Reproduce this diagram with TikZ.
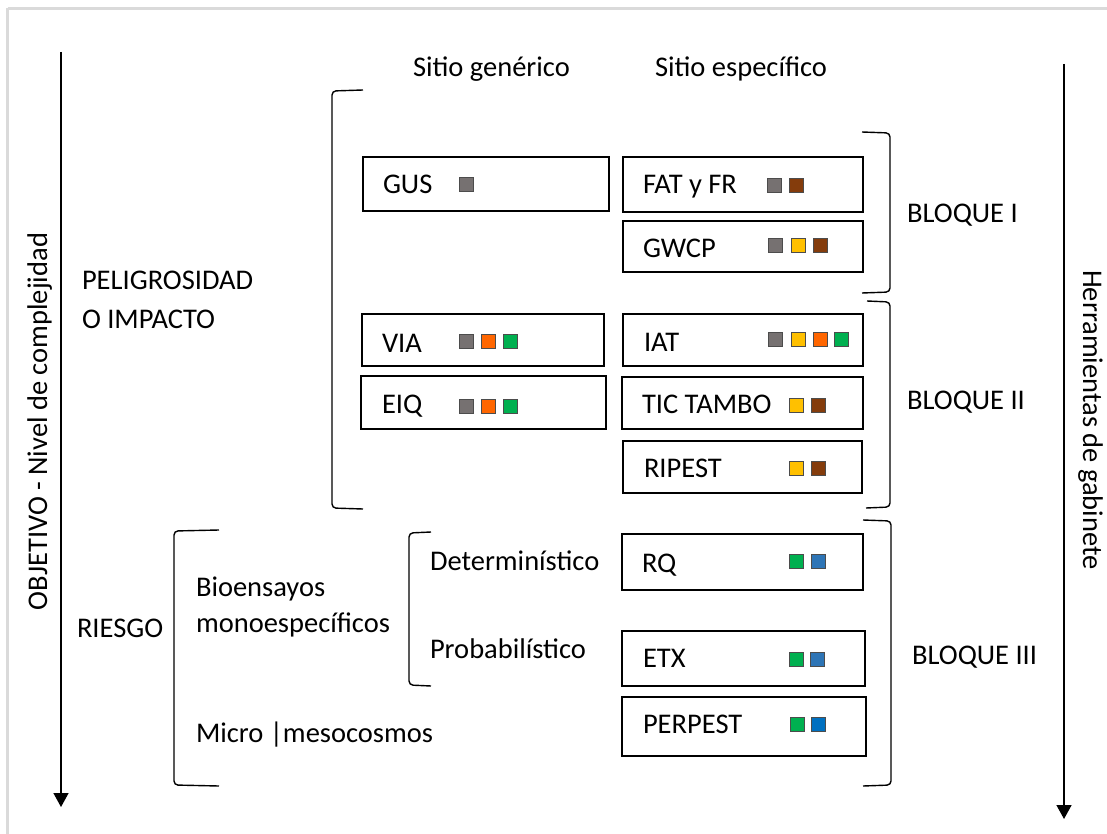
\documentclass[tikz,border=0pt]{standalone}
\usepackage{fontspec}
\setmainfont{Carlito}
\usetikzlibrary{arrows.meta}
\definecolor{cgray}{HTML}{767171}
\definecolor{cyellow}{HTML}{FFC000}
\definecolor{corange}{HTML}{FF6600}
\definecolor{cgreen}{HTML}{00B050}
\definecolor{cbrown}{HTML}{843C0C}
\definecolor{cblue}{HTML}{2E75B6}
\definecolor{cblueb}{HTML}{0070C0}
\definecolor{frame}{HTML}{DADADA}
\newcommand\toolbox[5]{\node[boxst,anchor=north west,minimum width=#4-#2,minimum height=#5-#3] (#1) at (#2,#3) {};}
\newcommand\colsq[4]{\node[sqr,fill=#4] (#1) at (#2+7.5,#3+7.5) {};}
\begin{document}
\begin{tikzpicture}[x=1pt,y=-1pt,
  every node/.style={font=\fontsize{28.5}{34}\selectfont, inner sep=0pt, outer sep=0pt},
  boxst/.style={draw=black, line width=1.9pt, fill=none},
  sqr/.style={draw=black!70, line width=0.9pt, minimum width=14pt, minimum height=14pt},
  lbl/.style={anchor=base west},
  brk/.style={draw=black, line width=1.4pt, rounded corners=4pt},
  axis/.style={draw=black, line width=1.5pt, -{Triangle[width=15pt,length=14pt]}}]
\useasboundingbox (0,0) rectangle (1107,834);
\draw[frame, line width=3pt] (7.5,8.5) -- (1130,8.5);
\draw[frame, line width=3pt] (7.5,8.5) -- (7.5,860);

% axes
\coordinate (la) at (61,52);
\coordinate (lb) at (61,807);
\coordinate (ra) at (1064,64);
\coordinate (rb) at (1064,819);
\draw[axis] (la) -- (lb);
\draw[axis] (ra) -- (rb);
\node[rotate=90, anchor=base] (obj) at (47,421.5) {OBJETIVO - Nivel de complejidad};
\node[rotate=-90, anchor=base] (herr) at (1083,420) {Herramientas de gabinete};

% headers
\node[lbl] (sgen) at (413,77) {Sitio genérico};
\node[lbl] (sesp) at (655,77) {Sitio específico};

% left labels
\node[lbl] (pel) at (82,289) {PELIGROSIDAD};
\node[lbl] (oimp) at (82,328) {O IMPACTO};
\node[lbl] (ries) at (77,637) {RIESGO};
\node[lbl] (bio) at (196,596) {Bioensayos};
\node[lbl] (mono) at (196,632) {monoespecíficos};
\node[lbl] (micro) at (196,742) {Micro |mesocosmos};
\node[lbl] (det) at (430,570) {Determinístico};
\node[lbl] (prob) at (430,658) {Probabilístico};

% bloques
\node[lbl] (b1) at (907,223) {BLOQUE I};
\node[lbl] (b2) at (907,409) {BLOQUE II};
\node[lbl] (b3) at (912,664) {BLOQUE III};

% brackets
\draw[brk] (363,90) -- (332,91) -- (332,508) -- (363,509);
\draw[brk] (862,132) -- (890,133) -- (890,292) -- (862,293);
\draw[brk] (867,301) -- (890,302) -- (890,507) -- (866,508);
\draw[brk] (863,520) -- (891,521) -- (891,785) -- (863,786);
\draw[brk] (219,530) -- (174,531) -- (174,785) -- (219,786);
\draw[brk] (431,532) -- (409,533) -- (409,685) -- (431,686);

% boxes
\toolbox{gus}{363}{157}{609}{211}
\toolbox{via}{362}{314}{604}{366}
\toolbox{eiq}{361}{376}{606}{429}
\toolbox{fat}{623}{157}{863}{212}
\toolbox{gwcp}{623}{221}{863}{272}
\toolbox{iat}{623}{314}{863}{366}
\toolbox{tic}{622}{377}{863}{429}
\toolbox{ripest}{623}{441}{862}{493}
\toolbox{rq}{622}{534}{863}{590}
\toolbox{etx}{622}{631}{865}{686}
\toolbox{perpest}{622}{697}{866}{756}

% box labels
\node[lbl] (tgus) at (383,194) {GUS};
\node[lbl] (tvia) at (382,352) {VIA};
\node[lbl] (teiq) at (382,413) {EIQ};
\node[lbl] (tfat) at (643,194) {FAT y FR};
\node[lbl] (tgwcp) at (643,258) {GWCP};
\node[lbl] (tiat) at (644,351) {IAT};
\node[lbl] (ttic) at (642,413) {TIC TAMBO};
\node[lbl] (tripest) at (644,477) {RIPEST};
\node[lbl] (trq) at (642,572) {RQ};
\node[lbl] (tetx) at (643,667) {ETX};
\node[lbl] (tperpest) at (643,733) {PERPEST};

% squares
\colsq{gus1}{459}{177}{cgray}
\colsq{via1}{459}{334}{cgray}
\colsq{via2}{481}{334}{corange}
\colsq{via3}{503}{334}{cgreen}
\colsq{eiq1}{459}{399}{cgray}
\colsq{eiq2}{481}{399}{corange}
\colsq{eiq3}{503}{399}{cgreen}
\colsq{fat1}{767}{178}{cgray}
\colsq{fat2}{789}{178}{cbrown}
\colsq{gwcp1}{768}{238}{cgray}
\colsq{gwcp2}{791}{238}{cyellow}
\colsq{gwcp3}{813}{238}{cbrown}
\colsq{iat1}{768}{332}{cgray}
\colsq{iat2}{791}{332}{cyellow}
\colsq{iat3}{813}{332}{corange}
\colsq{iat4}{834}{332}{cgreen}
\colsq{tic1}{789}{398}{cyellow}
\colsq{tic2}{811}{398}{cbrown}
\colsq{rip1}{789}{461}{cyellow}
\colsq{rip2}{811}{461}{cbrown}
\colsq{rq1}{789}{554}{cgreen}
\colsq{rq2}{811}{554}{cblue}
\colsq{etx1}{789}{652}{cgreen}
\colsq{etx2}{810}{652}{cblue}
\colsq{per1}{790}{717}{cgreen}
\colsq{per2}{811}{717}{cblueb}
\end{tikzpicture}
\end{document}
